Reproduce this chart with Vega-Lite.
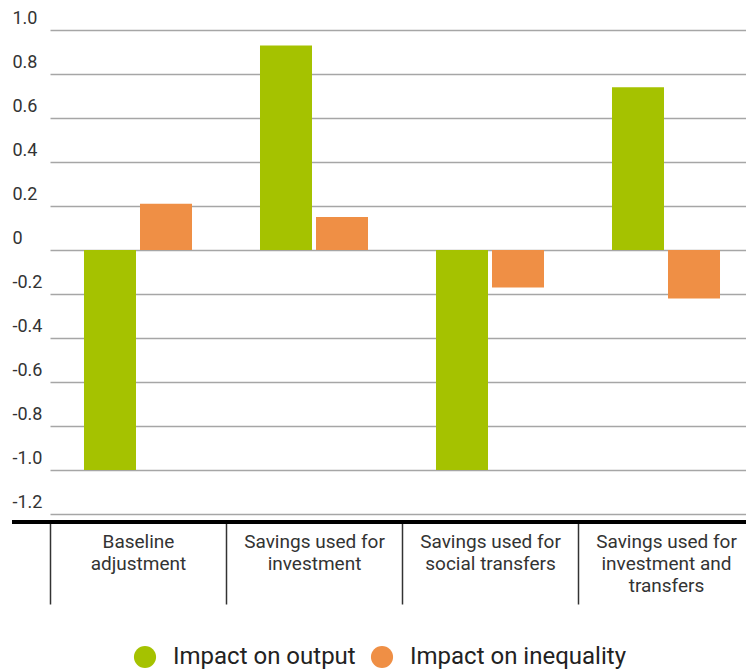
{
  "$schema": "https://vega.github.io/schema/vega-lite/v6.json",
  "autosize": "none",
  "width": 734,
  "height": 514,
  "padding": {"left": 12, "top": 8, "right": 0, "bottom": 147},
  "background": "white",
  "config": {
    "font": "Roboto",
    "view": {"stroke": null},
    "legend": {"layout": {"bottom": {"anchor": "middle"}}}
  },
  "data": {
    "values": [
      {"scenario": "Baseline adjustment", "series": "Impact on output", "value": -1.0},
      {"scenario": "Baseline adjustment", "series": "Impact on inequality", "value": 0.21},
      {"scenario": "Savings used for investment", "series": "Impact on output", "value": 0.93},
      {"scenario": "Savings used for investment", "series": "Impact on inequality", "value": 0.15},
      {"scenario": "Savings used for social transfers", "series": "Impact on output", "value": -1.0},
      {"scenario": "Savings used for social transfers", "series": "Impact on inequality", "value": -0.17},
      {"scenario": "Savings used for investment and transfers", "series": "Impact on output", "value": 0.74},
      {"scenario": "Savings used for investment and transfers", "series": "Impact on inequality", "value": -0.22}
    ]
  },
  "layer": [
    {
      "mark": {"type": "bar"},
      "encoding": {
        "x": {
          "field": "scenario",
          "type": "nominal",
          "sort": ["Baseline adjustment", "Savings used for investment", "Savings used for social transfers", "Savings used for investment and transfers"],
          "scale": {"range": [38, 742], "paddingInner": 0, "paddingOuter": 0},
          "axis": {
            "title": null,
            "orient": "bottom",
            "domain": false,
            "ticks": true,
            "tickBand": "extent",
            "tickSize": 82,
            "tickWidth": 1.5,
            "tickColor": "#333333",
            "labelAngle": 0,
            "labelFontSize": 19,
            "labelLineHeight": 22,
            "labelColor": "#333333",
            "labelBaseline": "top",
            "labelPadding": -72,
            "labelOverlap": false,
            "labelLimit": 200,
            "labelExpr": "datum.value == 'Baseline adjustment' ? ['Baseline', 'adjustment'] : datum.value == 'Savings used for investment' ? ['Savings used for', 'investment'] : datum.value == 'Savings used for social transfers' ? ['Savings used for', 'social transfers'] : datum.value == 'Savings used for investment and transfers' ? ['Savings used for', 'investment and', 'transfers'] : ''"
          }
        },
        "xOffset": {
          "field": "series",
          "type": "nominal",
          "sort": ["Impact on output", "Impact on inequality"],
          "scale": {"paddingInner": 0.0714, "paddingOuter": 0.607}
        },
        "y": {
          "field": "value",
          "type": "quantitative",
          "scale": {"domain": [-1.2364, 1.1], "nice": false, "zero": false},
          "axis": {
            "title": null,
            "values": [-1.2, -1.0, -0.8, -0.6, -0.4, -0.2, 0, 0.2, 0.4, 0.6, 0.8, 1.0],
            "grid": true,
            "gridColor": "#a6a6a6",
            "gridWidth": 1.5,
            "domain": false,
            "ticks": false,
            "labelAlign": "left",
            "labelBaseline": "alphabetic",
            "labelPadding": 0,
            "labelOffset": -6,
            "labelFontSize": 18,
            "labelColor": "#333333",
            "labelOverlap": false,
            "labelExpr": "datum.value == 0 ? '0' : (datum.value < 0 ? '-' : '') + format(abs(datum.value), '.1f')"
          }
        },
        "color": {
          "field": "series",
          "type": "nominal",
          "sort": ["Impact on output", "Impact on inequality"],
          "scale": {"domain": ["Impact on output", "Impact on inequality"], "range": ["#a5c200", "#ef8f45"]},
          "legend": {
            "title": null,
            "orient": "bottom",
            "direction": "horizontal",
            "symbolType": "circle",
            "symbolSize": 490,
            "symbolOpacity": 1,
            "symbolStrokeWidth": 0,
            "labelFontSize": 24,
            "labelColor": "#222222",
            "columnPadding": 14,
            "labelOffset": 16,
            "offset": 40,
            "labelLimit": 300
          }
        }
      }
    },
    {
      "mark": {"type": "rule", "color": "#000000", "strokeWidth": 3},
      "encoding": {
        "y": {"datum": -1.2364}
      }
    }
  ]
}
